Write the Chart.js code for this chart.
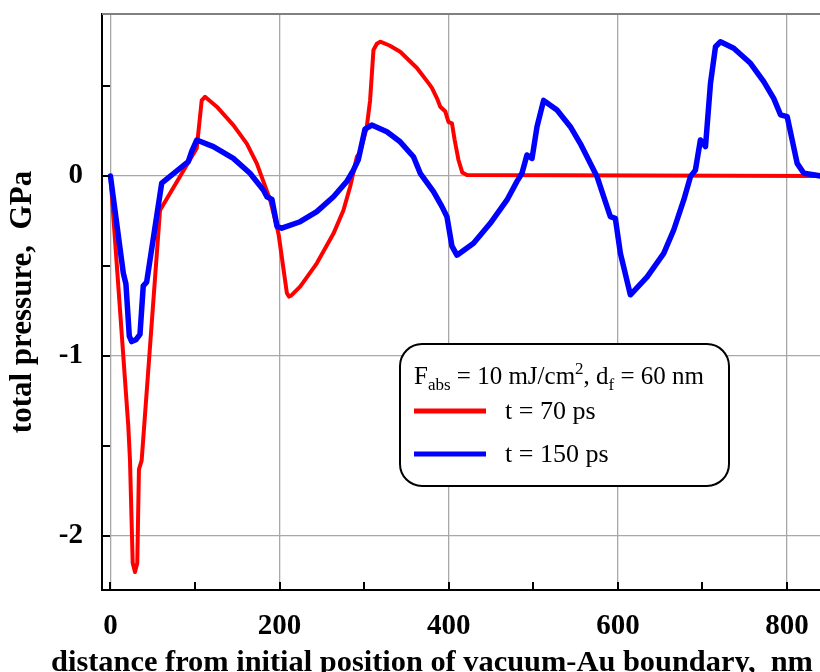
<!DOCTYPE html>
<html>
<head>
<meta charset="utf-8">
<script src="https://cdn.jsdelivr.net/npm/chart.js@4.4.1/dist/chart.umd.min.js"></script>
<style>
html,body{margin:0;padding:0;background:#fff;}
#c{display:block;}
</style>
</head>
<body>
<canvas id="c" width="820" height="672"></canvas>
<script>
// ---- data ----
const SERIES_LABELS = ['t = 70 ps', 't = 150 ps'];
const LEGEND_TITLE = ['F', 'abs', ' = 10 mJ/cm', '2', ', d', 'f', ' = 60 nm'];
const X_TITLE = 'distance from initial position of vacuum-Au boundary,  nm';
const Y_TITLE = 'total pressure,  GPa';
const X_TICKS = [0, 100, 200, 300, 400, 500, 600, 700, 800];
const Y_TICKS = [-2, -1.5, -1, -0.5, 0, 0.5];

const red_x = [0, 21.1, 23.1, 26.3, 29.0, 31.7, 33.7, 36.9, 58.6, 102, 105.9, 107.9, 111.8, 125.7, 145.3, 161.2, 173, 180.8, 188.8, 196.7, 199, 208.6, 211, 213.6, 224.3, 244, 263.7, 275.5, 283.4, 291.4, 295, 303, 307, 311, 315, 319, 330, 342.6, 362.4, 376.1, 380.1, 386, 390, 396, 399.7, 403.8, 407, 411.5, 416, 421.5, 840];
const red_y = [0, -1.39, -1.58, -2.15, -2.20, -2.15, -1.63, -1.58, -0.19, 0.154, 0.33, 0.42, 0.44, 0.385, 0.283, 0.18, 0.07, -0.03, -0.133, -0.28, -0.33, -0.65, -0.67, -0.665, -0.615, -0.485, -0.32, -0.19, -0.06, 0.107, 0.13, 0.27, 0.42, 0.70, 0.735, 0.746, 0.725, 0.69, 0.60, 0.516, 0.49, 0.433, 0.385, 0.358, 0.30, 0.293, 0.2, 0.089, 0.02, 0.006, 0];

const blue_x = [0, 15.2, 18.3, 22.3, 25.1, 30, 34.9, 38.8, 42.8, 60.6, 92, 96, 102, 121.7, 145.3, 165, 180.8, 185, 191, 197, 202.6, 224.3, 244, 263.7, 279.5, 287, 293, 301, 309, 326.9, 342.6, 358.3, 366.3, 382, 392, 397.9, 403.8, 409.7, 429.3, 449.1, 468.9, 480.7, 486.6, 492.5, 498.5, 504.4, 512.2, 528, 543.8, 555.6, 567.5, 575.4, 583.2, 591.1, 597, 603, 614.8, 634.6, 654.2, 666, 677.9, 685.8, 691.7, 697.6, 703.6, 709.5, 715.4, 721.3, 737, 756.8, 772.5, 784.4, 792.3, 800.2, 806.1, 812, 819.9, 840];
const blue_y = [0, -0.54, -0.60, -0.89, -0.92, -0.91, -0.88, -0.61, -0.59, -0.04, 0.08, 0.135, 0.20, 0.163, 0.098, 0.015, -0.078, -0.115, -0.13, -0.28, -0.29, -0.254, -0.198, -0.115, -0.03, 0.03, 0.09, 0.26, 0.283, 0.246, 0.19, 0.107, 0.015, -0.087, -0.17, -0.226, -0.39, -0.44, -0.374, -0.263, -0.133, -0.03, 0.015, 0.117, 0.098, 0.274, 0.42, 0.367, 0.274, 0.18, 0.07, -0.004, -0.115, -0.226, -0.235, -0.43, -0.66, -0.56, -0.43, -0.3, -0.133, -0.004, 0.033, 0.2, 0.163, 0.515, 0.718, 0.746, 0.71, 0.626, 0.524, 0.43, 0.34, 0.33, 0.2, 0.07, 0.015, 0];

const toPts = (xs, ys) => xs.map((x, i) => ({x: x, y: ys[i]}));

const SERIF = "'Liberation Serif', 'Times New Roman', serif";
const RED = '#ff0000';
const BLUE = '#0000ff';
const GRID = '#a8a8a8';

const decor = {
  id: 'decor',
  afterDraw(chart) {
    const ctx = chart.ctx;
    const a = chart.chartArea;
    const xs = chart.scales.x, ys = chart.scales.y;
    ctx.save();
    // top frame line
    ctx.strokeStyle = '#808080';
    ctx.lineWidth = 2;
    ctx.beginPath();
    ctx.moveTo(a.left, a.top);
    ctx.lineTo(a.right, a.top);
    ctx.stroke();
    // inward tick marks
    ctx.strokeStyle = '#000';
    ctx.lineWidth = 2;
    ctx.beginPath();
    X_TICKS.forEach(v => {
      const px = Math.round(xs.getPixelForValue(v));
      ctx.moveTo(px, a.bottom);
      ctx.lineTo(px, a.bottom - 8);
    });
    Y_TICKS.forEach(v => {
      const py = Math.round(ys.getPixelForValue(v));
      ctx.moveTo(a.left, py);
      ctx.lineTo(a.left + 8, py);
    });
    ctx.stroke();

    // x axis title
    ctx.fillStyle = '#000';
    ctx.font = 'bold 30.4px ' + SERIF;
    ctx.textAlign = 'center';
    ctx.textBaseline = 'alphabetic';
    ctx.fillText(X_TITLE, 432, 671);

    // legend box
    const bx = 400, by = 344, bw = 329, bh = 142, r = 22;
    ctx.beginPath();
    ctx.moveTo(bx + r, by);
    ctx.lineTo(bx + bw - r, by);
    ctx.arcTo(bx + bw, by, bx + bw, by + r, r);
    ctx.lineTo(bx + bw, by + bh - r);
    ctx.arcTo(bx + bw, by + bh, bx + bw - r, by + bh, r);
    ctx.lineTo(bx + r, by + bh);
    ctx.arcTo(bx, by + bh, bx, by + bh - r, r);
    ctx.lineTo(bx, by + r);
    ctx.arcTo(bx, by, bx + r, by, r);
    ctx.closePath();
    ctx.fillStyle = '#fff';
    ctx.fill();
    ctx.strokeStyle = '#000';
    ctx.lineWidth = 2;
    ctx.stroke();

    // legend title with sub/superscripts
    ctx.fillStyle = '#000';
    ctx.textAlign = 'left';
    ctx.textBaseline = 'alphabetic';
    const main = '25px ' + SERIF, small = '17px ' + SERIF;
    let tx = 414;
    const base = 384;
    const parts = [
      [LEGEND_TITLE[0], main, 0],
      [LEGEND_TITLE[1], small, 6],
      [LEGEND_TITLE[2], main, 0],
      [LEGEND_TITLE[3], small, -10],
      [LEGEND_TITLE[4], main, 0],
      [LEGEND_TITLE[5], small, 6],
      [LEGEND_TITLE[6], main, 0]
    ];
    parts.forEach(p => {
      ctx.font = p[1];
      ctx.fillText(p[0], tx, base + p[2]);
      tx += ctx.measureText(p[0]).width;
    });

    // legend entries
    const ds = chart.data.datasets;
    const rows = [411, 454];
    ds.forEach((d, i) => {
      ctx.strokeStyle = d.borderColor;
      ctx.lineWidth = 5;
      ctx.beginPath();
      ctx.moveTo(414, rows[i]);
      ctx.lineTo(486, rows[i]);
      ctx.stroke();
      ctx.fillStyle = '#000';
      ctx.font = '26px ' + SERIF;
      ctx.textBaseline = 'middle';
      ctx.fillText(d.label, 505, rows[i] + 1);
    });
    ctx.restore();
  }
};

new Chart(document.getElementById('c'), {
  type: 'line',
  data: {
    datasets: [
      {label: SERIES_LABELS[0], data: toPts(red_x, red_y), borderColor: RED, borderWidth: 4, pointRadius: 0, tension: 0, borderJoinStyle: 'round', borderCapStyle: 'round', order: 2, fill: false},
      {label: SERIES_LABELS[1], data: toPts(blue_x, blue_y), borderColor: BLUE, borderWidth: 5.5, pointRadius: 0, tension: 0, borderJoinStyle: 'round', borderCapStyle: 'round', order: 1, fill: false}
    ]
  },
  options: {
    responsive: false,
    animation: false,
    devicePixelRatio: 1,
    layout: {padding: {top: 14, right: 0, left: 0, bottom: 0}},
    plugins: {legend: {display: false}, tooltip: {enabled: false}},
    scales: {
      x: {
        type: 'linear',
        min: -10,
        max: 839,
        afterBuildTicks: s => { s.ticks = X_TICKS.map(v => ({value: v})); },
        afterFit: s => { s.height = 82; s.paddingLeft = 0; s.paddingRight = 0; },
        ticks: {
          autoSkip: false,
          maxRotation: 0,
          padding: 19,
          color: '#000',
          font: {family: SERIF, size: 29, weight: 'bold'},
          callback: v => (v % 200 === 0 ? String(v) : '')
        },
        grid: {
          drawTicks: false,
          lineWidth: 1.3,
          color: c => (c.tick && c.tick.value % 200 === 0 ? GRID : 'rgba(0,0,0,0)')
        },
        border: {display: true, color: '#000', width: 2}
      },
      y: {
        type: 'linear',
        min: -2.3,
        max: 0.9,
        afterBuildTicks: s => { s.ticks = Y_TICKS.map(v => ({value: v})); },
        afterFit: s => { s.width = 102; s.paddingTop = 0; s.paddingBottom = 0; },
        ticks: {
          autoSkip: false,
          padding: 19,
          color: '#000',
          font: {family: SERIF, size: 29, weight: 'bold'},
          callback: v => (Number.isInteger(v) ? String(v) : '')
        },
        grid: {
          drawTicks: false,
          lineWidth: 1.3,
          color: c => (c.tick && Number.isInteger(c.tick.value) ? GRID : 'rgba(0,0,0,0)')
        },
        border: {display: true, color: '#000', width: 2},
        title: {
          display: true,
          text: Y_TITLE,
          color: '#000',
          font: {family: SERIF, size: 31, weight: 'bold'},
          padding: {top: 4, bottom: 0}
        }
      }
    }
  },
  plugins: [decor]
});
</script>
</body>
</html>
